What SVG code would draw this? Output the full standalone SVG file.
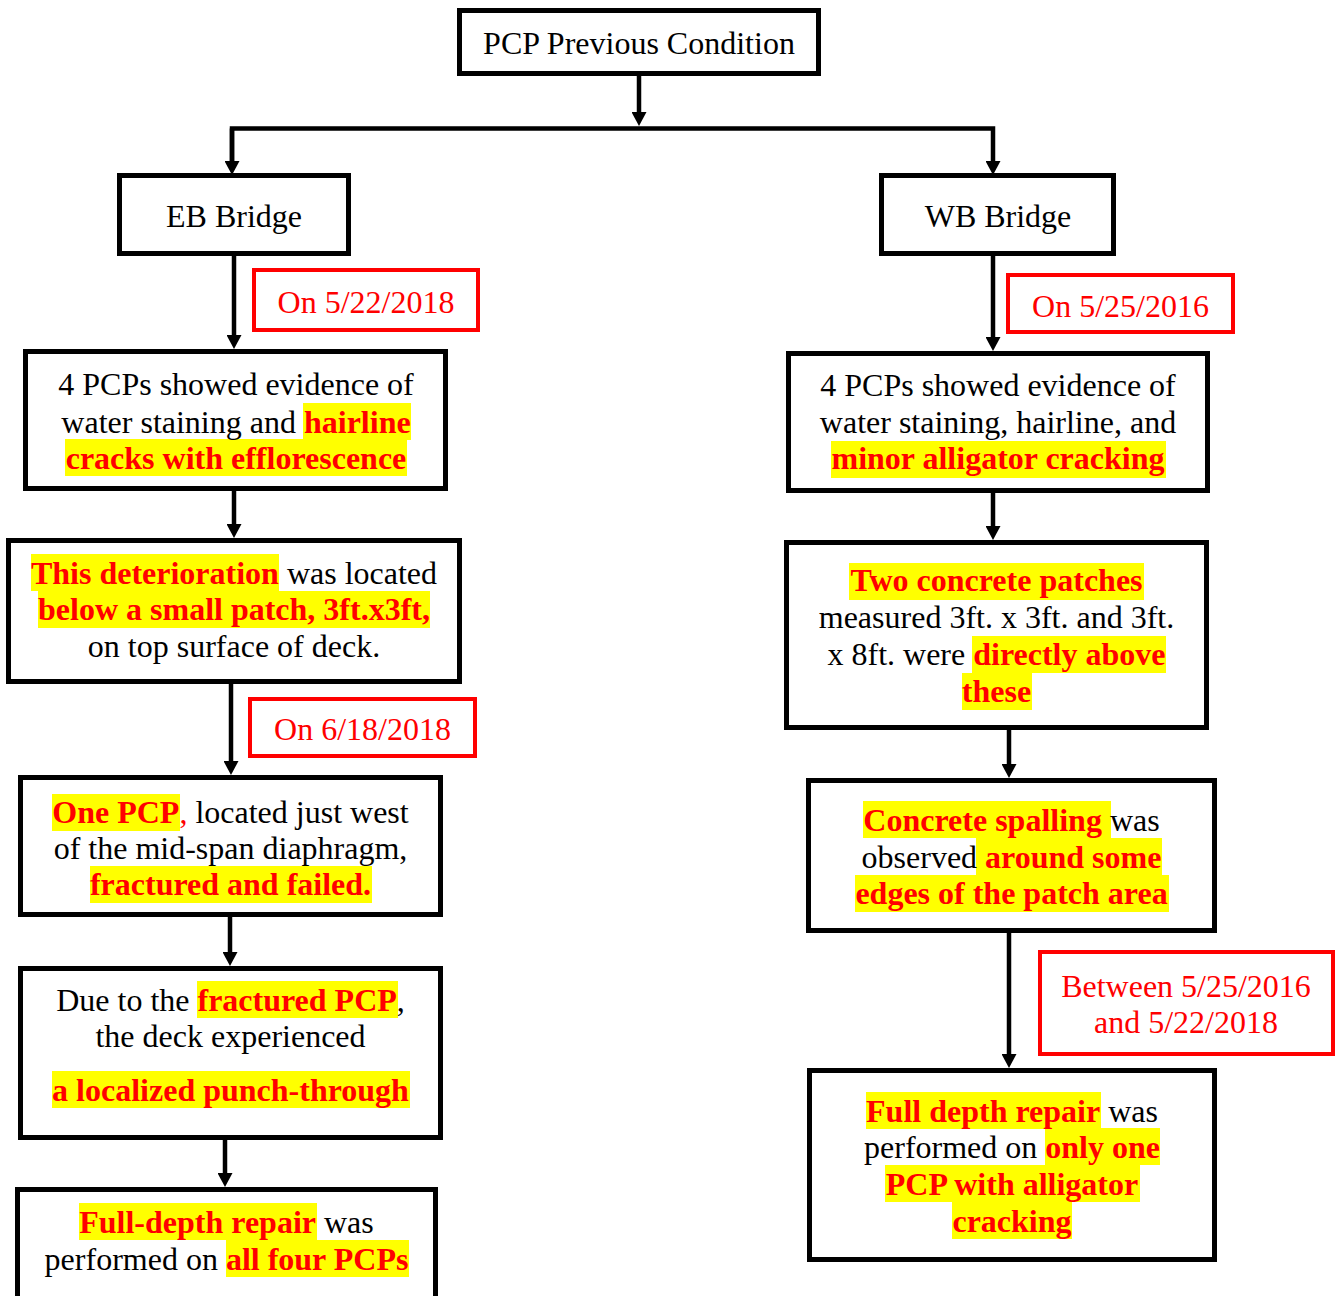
<svg xmlns="http://www.w3.org/2000/svg" width="1340" height="1296" viewBox="0 0 1340 1296">
  <style>
    .box { fill: #fff; stroke: #000; stroke-width: 5; }
    .date { fill: #fff; stroke: #f00; stroke-width: 4; }
    .hl { fill: #ff0; }
    text { font-family: "Liberation Serif", "Times New Roman", serif; font-size: 32px; fill: #000; text-anchor: middle; }
    .r { fill: #f00; }
    .b { font-weight: bold; fill: #f00; }
    .link { fill: none; stroke: #000; stroke-width: 4.5; }
  </style>
  <defs>
    <marker id="arrow" viewBox="0 0 14 15" refX="0" refY="7.5" markerWidth="14" markerHeight="15" markerUnits="userSpaceOnUse" orient="auto">
      <path d="M0,0 L14,7.5 L0,15 z" fill="#000"/>
    </marker>
  </defs>

  <rect width="1340" height="1296" fill="#fff"/>

  <!-- connectors -->
  <g id="connectors">
    <line class="link" x1="639" y1="76" x2="639" y2="112" marker-end="url(#arrow)"/>
    <polyline class="link" points="232,161 232,128.5 993,128.5 993,161" marker-end="url(#arrow)" stroke-width="5"/>
    <line class="link" x1="232" y1="128.5" x2="232" y2="161" marker-end="url(#arrow)"/>
    <line class="link" x1="234" y1="256" x2="234" y2="335" marker-end="url(#arrow)"/>
    <line class="link" x1="993" y1="256" x2="993" y2="337" marker-end="url(#arrow)"/>
    <line class="link" x1="234" y1="491" x2="234" y2="524" marker-end="url(#arrow)"/>
    <line class="link" x1="231" y1="684" x2="231" y2="761" marker-end="url(#arrow)"/>
    <line class="link" x1="230" y1="917" x2="230" y2="952" marker-end="url(#arrow)"/>
    <line class="link" x1="225" y1="1140" x2="225" y2="1173" marker-end="url(#arrow)"/>
    <line class="link" x1="993" y1="493" x2="993" y2="526" marker-end="url(#arrow)"/>
    <line class="link" x1="1009" y1="730" x2="1009" y2="764" marker-end="url(#arrow)"/>
    <line class="link" x1="1009" y1="933" x2="1009" y2="1054" marker-end="url(#arrow)"/>
  </g>

  <!-- date labels -->
  <g id="date-eb-1">
    <rect class="date" x="254" y="270" width="224" height="60"/>
    <text class="r" x="366" y="313">On 5/22/2018</text>
  </g>
  <g id="date-wb-1">
    <rect class="date" x="1008" y="275" width="225" height="57"/>
    <text class="r" x="1120.5" y="317">On 5/25/2016</text>
  </g>
  <g id="date-eb-2">
    <rect class="date" x="250" y="699" width="225" height="57"/>
    <text class="r" x="362.5" y="740">On 6/18/2018</text>
  </g>
  <g id="date-wb-2">
    <rect class="date" x="1040" y="952" width="293" height="102"/>
    <text class="r" x="1186" y="997">Between 5/25/2016</text>
    <text class="r" x="1186" y="1033">and 5/22/2018</text>
  </g>

  <!-- root -->
  <g id="root">
    <rect class="box" x="459.5" y="10.5" width="359" height="63"/>
    <text x="639" y="54">PCP Previous Condition</text>
  </g>

  <g id="eb-bridge">
    <rect class="box" x="119.5" y="175.5" width="229" height="78"/>
    <text x="234" y="227">EB Bridge</text>
  </g>
  <g id="wb-bridge">
    <rect class="box" x="881.5" y="175.5" width="232" height="78"/>
    <text x="998" y="227">WB Bridge</text>
  </g>

  <!-- EB branch -->
  <g id="eb-evidence">
    <rect class="box" x="25.5" y="351.5" width="420" height="137"/>
    <rect class="hl" x="303" y="403" width="108" height="37"/>
    <rect class="hl" x="65" y="439" width="342" height="37"/>
    <text x="236" y="395">4 PCPs showed evidence of</text>
    <text x="236" y="433">water staining and <tspan class="b">hairline</tspan></text>
    <text x="236" y="469" class="b">cracks with efflorescence</text>
  </g>
  <g id="eb-location">
    <rect class="box" x="8.5" y="540.5" width="451" height="141"/>
    <rect class="hl" x="31" y="554" width="248" height="37"/>
    <rect class="hl" x="38" y="591" width="392" height="37"/>
    <text x="234" y="584"><tspan class="b">This deterioration</tspan> was located</text>
    <text x="234" y="620" class="b">below a small patch, 3ft.x3ft,</text>
    <text x="234" y="657">on top surface of deck.</text>
  </g>
  <g id="eb-failure">
    <rect class="box" x="20.5" y="777.5" width="420" height="137"/>
    <rect class="hl" x="52" y="794" width="128" height="37"/>
    <rect class="hl" x="90" y="866" width="282" height="37"/>
    <text x="230.5" y="823"><tspan class="b">One PCP</tspan><tspan class="r">,</tspan> located just west</text>
    <text x="230.5" y="859">of the mid-span diaphragm,</text>
    <text x="230.5" y="895" class="b">fractured and failed.</text>
  </g>
  <g id="eb-punch">
    <rect class="box" x="20.5" y="968.5" width="420" height="169"/>
    <rect class="hl" x="197" y="981" width="201" height="37"/>
    <rect class="hl" x="52" y="1071" width="358" height="37"/>
    <text x="230.5" y="1011">Due to the <tspan class="b">fractured PCP</tspan>,</text>
    <text x="230.5" y="1047">the deck experienced</text>
    <text x="230.5" y="1101" class="b">a localized punch-through</text>
  </g>
  <g id="eb-repair">
    <rect class="box" x="17.5" y="1189.5" width="418" height="130"/>
    <rect class="hl" x="79" y="1203" width="238" height="37"/>
    <rect class="hl" x="226" y="1240" width="183" height="37"/>
    <text x="226.5" y="1233"><tspan class="b">Full-depth repair</tspan> was</text>
    <text x="226.5" y="1270">performed on <tspan class="b">all four PCPs</tspan></text>
  </g>

  <!-- WB branch -->
  <g id="wb-evidence">
    <rect class="box" x="788.5" y="353.5" width="419" height="137"/>
    <rect class="hl" x="831" y="441" width="335" height="37"/>
    <text x="998" y="396">4 PCPs showed evidence of</text>
    <text x="998" y="433">water staining, hairline, and</text>
    <text x="998" y="469" class="b">minor alligator cracking</text>
  </g>
  <g id="wb-patches">
    <rect class="box" x="786.5" y="542.5" width="420" height="185"/>
    <rect class="hl" x="849" y="563" width="295" height="37"/>
    <rect class="hl" x="972" y="636" width="194" height="37"/>
    <rect class="hl" x="962" y="673" width="70" height="37"/>
    <text x="996.5" y="591" class="b">Two concrete patches</text>
    <text x="996.5" y="628">measured 3ft. x 3ft. and 3ft.</text>
    <text x="996.5" y="665">x 8ft. were <tspan class="b">directly above</tspan></text>
    <text x="996.5" y="702" class="b">these</text>
  </g>
  <g id="wb-spalling">
    <rect class="box" x="808.5" y="780.5" width="406" height="150"/>
    <rect class="hl" x="863" y="801" width="248" height="37"/>
    <rect class="hl" x="976" y="838" width="186" height="37"/>
    <rect class="hl" x="855" y="875" width="314" height="37"/>
    <text x="1011.5" y="831"><tspan class="b">Concrete spalling</tspan> was</text>
    <text x="1011.5" y="868">observed <tspan class="b">around some</tspan></text>
    <text x="1011.5" y="904" class="b">edges of the patch area</text>
  </g>
  <g id="wb-repair">
    <rect class="box" x="809.5" y="1070.5" width="405" height="189"/>
    <rect class="hl" x="866" y="1092" width="235" height="37"/>
    <rect class="hl" x="1045" y="1128" width="115" height="37"/>
    <rect class="hl" x="885" y="1165" width="255" height="37"/>
    <rect class="hl" x="952" y="1202" width="120" height="37"/>
    <text x="1012" y="1122"><tspan class="b">Full depth repair</tspan> was</text>
    <text x="1012" y="1158">performed on <tspan class="b">only one</tspan></text>
    <text x="1012" y="1195" class="b">PCP with alligator</text>
    <text x="1012" y="1232" class="b">cracking</text>
  </g>
</svg>
